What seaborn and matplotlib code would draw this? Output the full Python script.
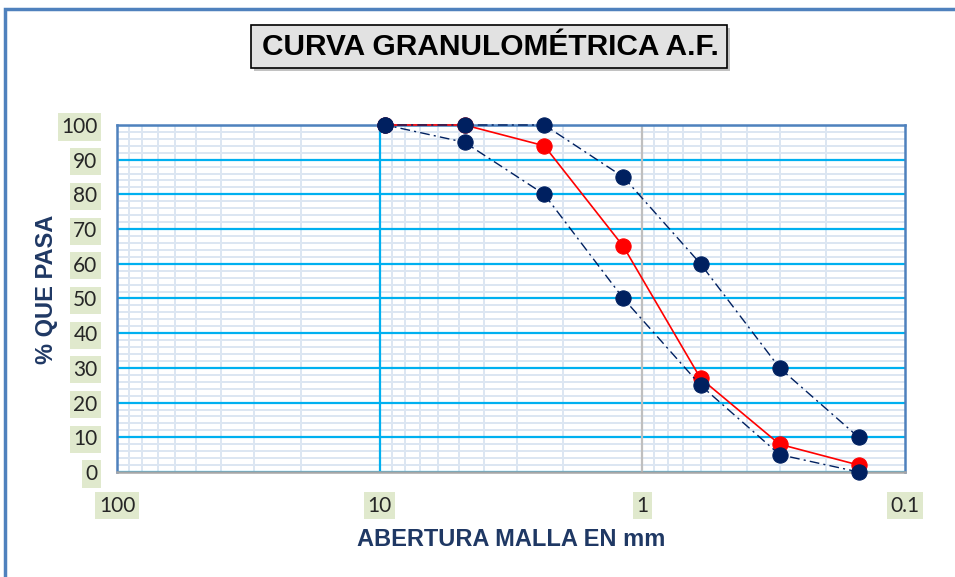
"""
Curva granulometrica - agregado fino
"""
#%% import libraries

import numpy as np
import pandas as pd
import matplotlib
matplotlib.use("Agg")
import matplotlib.pyplot as plt
import matplotlib.patches as patches
from matplotlib.ticker import FixedLocator, NullFormatter
import seaborn as sns

#%% data

abertura = [9.5, 4.75, 2.36, 1.18, 0.6, 0.3, 0.15]        # mm
muestra = [100, 100, 94, 65, 27, 8, 2]                    # % que pasa
lim_superior = [100, 100, 100, 85, 60, 30, 10]
lim_inferior = [100, 95, 80, 50, 25, 5, 0]

x_ticks = [100, 10, 1, 0.1]
x_labels = ["100", "10", "1", "0.1"]
y_ticks = [0, 10, 20, 30, 40, 50, 60, 70, 80, 90, 100]

#%% style

sns.set_style("white")
plt.rcParams["font.family"] = ["Liberation Sans", "DejaVu Sans"]

navy = "#002060"
red = "#FF0000"
blue_spine = "#4F81BD"
cyan = "#00B0F0"
light = "#DCE6F2"

fig = plt.figure(figsize=(9.55, 5.77), dpi=100)
ax = fig.add_axes([0.1225, 0.182, 0.825, 0.6014])
ax.set_xscale("log")

#%% curves

dashdot = (0, (7, 3, 1.5, 3))
sns.lineplot(x=abertura, y=muestra, ax=ax, color=red, lw=1.2, marker="o",
             markersize=11, markeredgecolor=red, clip_on=False, zorder=4)
sns.lineplot(x=abertura, y=lim_superior, ax=ax, color=navy, lw=1.0, linestyle=dashdot,
             marker="o", markersize=11, markeredgecolor=navy, clip_on=False, zorder=5)
sns.lineplot(x=abertura, y=lim_inferior, ax=ax, color=navy, lw=1.0, linestyle=dashdot,
             marker="o", markersize=11, markeredgecolor=navy, clip_on=False, zorder=5)

#%% axes

ax.set_xlim(100, 0.1)
ax.set_ylim(0, 100)
ax.xaxis.set_major_locator(FixedLocator(x_ticks))
ax.set_xticklabels(x_labels)
minor_x = [m * 10.0 ** d for d in (-1, 0, 1) for m in range(2, 10)]
ax.xaxis.set_minor_locator(FixedLocator(minor_x))
ax.xaxis.set_minor_formatter(NullFormatter())
ax.set_yticks(y_ticks)
ax.yaxis.set_minor_locator(FixedLocator(np.arange(0, 101, 2)))

ax.grid(which="minor", axis="both", color=light, lw=1.4, zorder=0)
ax.grid(which="major", axis="y", color=cyan, lw=1.6, zorder=1)
ax.axvline(10, color=cyan, lw=1.6, zorder=1)
ax.axvline(1, color="#BFBFBF", lw=1.6, zorder=1)
ax.set_axisbelow(True)

ax.tick_params(axis="both", which="both", length=0, labelsize=15)
ax.tick_params(axis="y", pad=14)
ax.tick_params(axis="x", pad=17)
for lab in ax.get_xticklabels() + ax.get_yticklabels():
    lab.set_family(["Lato", "DejaVu Sans"])
    lab.set_bbox(dict(facecolor="#E0E9CD", edgecolor="none", pad=2.5))

for side in ["left", "top", "right"]:
    ax.spines[side].set_color(blue_spine)
    ax.spines[side].set_linewidth(1.8)
ax.spines["bottom"].set_color("#A6A6A6")
ax.spines["bottom"].set_linewidth(1.8)

ax.set_xlabel("ABERTURA MALLA EN mm", fontsize=17, fontweight="bold",
              color="#1F3864", labelpad=9)
ax.set_ylabel("% QUE PASA", fontsize=17, fontweight="bold", color="#1F3864")
ax.yaxis.set_label_coords(-0.075, 0.525)

#%% title box and frame

shadow = patches.Rectangle((254 / 955, 1 - 71 / 577), 476 / 955, 43 / 577,
                           transform=fig.transFigure, facecolor="#9A9A9A",
                           edgecolor="none", alpha=0.6, zorder=1)
fig.patches.append(shadow)
box = patches.Rectangle((251 / 955, 1 - 68 / 577), 476 / 955, 43 / 577,
                        transform=fig.transFigure, facecolor="#E2E2E2",
                        edgecolor="black", lw=1.2, zorder=2)
fig.patches.append(box)
fig.text(490 / 955, 1 - 47 / 577, "CURVA GRANULOMÉTRICA A.F.", ha="center",
         va="center", fontsize=21.5, fontweight="bold", color="black", zorder=3)

frame = patches.Rectangle((5 / 955, -0.1), 1.2, 1 - 9 / 577 + 0.1,
                          transform=fig.transFigure, fill=False,
                          edgecolor=blue_spine, lw=2.5)
fig.patches.append(frame)

fig.savefig("out.png", dpi=100)
